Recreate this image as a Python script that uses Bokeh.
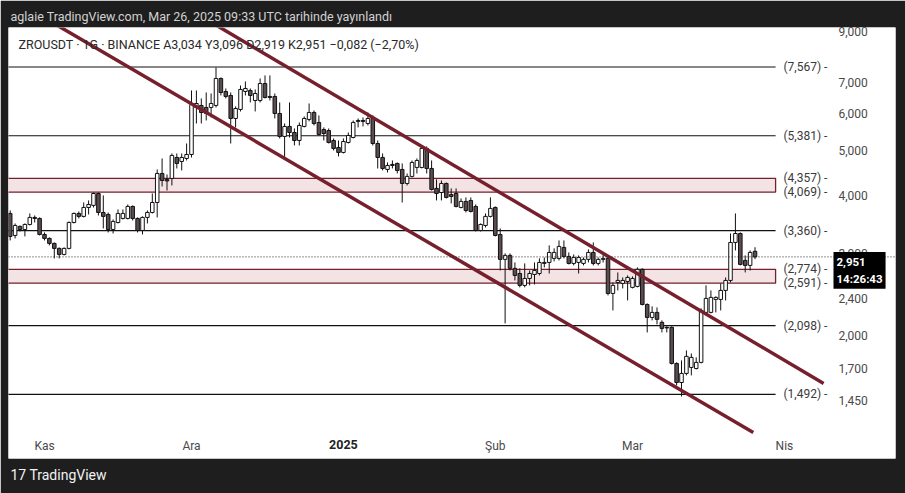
from datetime import datetime, timedelta
import pandas as pd
from bokeh.plotting import figure
from bokeh.models import (ColumnDataSource, Range1d, FixedTicker, NumeralTickFormatter,
                          Label, Span, Title)
from bokeh.embed import file_html
from bokeh.resources import INLINE

# ---------------- data ----------------
dates = pd.date_range("2024-10-25", "2025-03-26", freq="D")

opens = [3660, 3282, 3432, 3381, 3466, 3589, 3571, 3298, 3234, 3155, 3078, 2987, 3078, 3500, 3660, 3607,
         3771, 3809, 4041, 3678, 3642, 3381, 3500, 3571, 3571, 3790, 3571, 3364, 3589, 3678, 3865, 4463,
         4330, 4354, 4832, 4737, 4808, 4904, 6191, 6253, 6191, 6191, 6253, 7148, 6702, 6571, 5862, 6130,
         6702, 6735, 6409, 6409, 6972, 6538, 6538, 6009, 5362, 5635, 5468, 5256, 5635, 5834, 6039, 5747,
         5551, 5523, 5256, 5077, 4953, 5204, 5335, 5776, 5804, 5718, 5862, 5178, 4832, 4553, 4667, 4690,
         4553, 4247, 4398, 4598, 4598, 5052, 4575, 4144, 4061, 4247, 4022, 4041, 3771, 3885, 3904, 3790,
         3364, 3449, 3607, 3771, 3298, 2915, 2973, 2788, 2718, 2562, 2652, 2705, 2718, 2857, 2871, 2929,
         2929, 3093, 2958, 2857, 2871, 2857, 2915, 3017, 2857, 2915, 2929, 2462, 2600, 2587, 2613, 2537,
         2549, 2774, 2331, 2186, 2241, 2133, 2081, 2081, 1740, 1583, 1656, 1706, 1697, 1749, 2241, 2241,
         2390, 2390, 2499, 2626, 3170, 3314, 2900, 2829, 3034]
highs = [3715, 3483, 3449, 3483, 3660, 3624, 3589, 3331, 3250, 3170, 3093, 3093, 3518, 3678, 3697, 3865,
         3904, 4061, 4061, 4002, 3678, 3553, 3734, 3734, 3827, 3809, 3589, 3607, 3715, 4041, 4553, 4808,
         4441, 4928, 4928, 4928, 5178, 6735, 6735, 6474, 6668, 6635, 7549, 7184, 6802, 6668, 6222, 6904,
         7042, 6802, 6769, 7148, 7256, 7256, 6635, 6346, 5718, 6346, 5579, 5747, 5921, 6314, 6099, 5950,
         5607, 5579, 5309, 5256, 5309, 5468, 5804, 5862, 5892, 6039, 5950, 5256, 4928, 4713, 4760, 4713,
         4690, 4463, 4760, 4808, 5103, 5103, 4760, 4333, 4311, 4268, 4144, 4144, 3943, 3963, 3963, 3827,
         3483, 3660, 3963, 3790, 3398, 3002, 3002, 2871, 2788, 2857, 2759, 2871, 2929, 2943, 3124, 3078,
         3202, 3202, 3017, 2987, 2973, 2943, 3063, 3170, 2943, 3002, 2958, 2600, 2732, 2665, 2692, 2678,
         2801, 2788, 2343, 2309, 2297, 2154, 2091, 2091, 1749, 1766, 1856, 1828, 1793, 2286, 2562, 2499,
         2426, 2587, 2665, 3314, 3660, 3331, 2973, 3047, 3096]
lows = [3202, 3234, 3347, 3266, 3449, 3500, 3282, 3202, 3124, 2929, 2929, 2973, 3063, 3483, 3571, 3589,
        3642, 3771, 3624, 3398, 3331, 3314, 3483, 3553, 3553, 3535, 3331, 3298, 3483, 3660, 3589, 4185,
        4102, 4206, 4575, 4530, 4760, 4832, 5718, 5718, 5804, 5892, 6191, 6571, 6474, 5178, 5607, 6069,
        6571, 6346, 6069, 6346, 6474, 6409, 5862, 5309, 4832, 5335, 5128, 5128, 5607, 5776, 5662, 5388,
        5256, 5178, 5002, 4856, 4928, 5178, 5309, 5607, 5635, 5662, 5128, 4575, 4530, 4485, 4575, 4463,
        3865, 4206, 4376, 4463, 4575, 4463, 4102, 3904, 3904, 3943, 3846, 3771, 3753, 3678, 3678, 3347,
        3347, 3415, 3589, 3266, 2759, 2122, 2759, 2626, 2537, 2537, 2562, 2575, 2692, 2801, 2718, 2886,
        2900, 2929, 2843, 2829, 2718, 2829, 2871, 2829, 2829, 2871, 2438, 2263, 2499, 2524, 2378, 2524,
        2537, 2320, 2029, 2154, 2112, 2029, 2029, 1731, 1560, 1477, 1640, 1640, 1689, 1740, 2208, 2230,
        2241, 2263, 2378, 2600, 3047, 2829, 2732, 2759, 2919]
closes = [3266, 3449, 3381, 3466, 3589, 3571, 3298, 3234, 3155, 3078, 2987, 3078, 3500, 3660, 3607, 3771,
          3827, 4041, 3678, 3607, 3381, 3518, 3660, 3660, 3790, 3571, 3364, 3589, 3678, 3865, 4463, 4311,
          4300, 4880, 4690, 4832, 4904, 6283, 6314, 6039, 6009, 6314, 7148, 6668, 6538, 5862, 6160, 6769,
          6802, 6571, 6635, 6972, 6506, 6506, 6009, 5362, 5635, 5468, 5256, 5662, 5862, 6039, 5718, 5415,
          5441, 5204, 5052, 4953, 5230, 5388, 5747, 5804, 5776, 5862, 5178, 4832, 4575, 4644, 4644, 4530,
          4247, 4398, 4713, 4760, 5052, 4575, 4123, 4041, 4247, 3963, 3982, 3790, 3885, 3715, 3697, 3364,
          3466, 3607, 3753, 3282, 2915, 2973, 2788, 2692, 2562, 2652, 2718, 2759, 2871, 2871, 3017, 3017,
          3108, 2958, 2857, 2943, 2943, 2915, 3017, 2857, 2915, 2929, 2462, 2562, 2626, 2626, 2665, 2652,
          2774, 2331, 2186, 2241, 2165, 2070, 2075, 1740, 1583, 1656, 1802, 1793, 1749, 2263, 2402, 2414,
          2414, 2499, 2626, 3170, 3314, 2843, 2829, 3017, 2951]

levels = [7567, 5381, 3360, 2098, 1492]
zone_bottoms = [4069, 2591]
zone_tops = [4357, 2774]
level_texts = ["(7,567) -", "(5,381) -", "(3,360) -", "(2,098) -", "(1,492) -",
               "(4,357) -", "(4,069) -", "(2,774) -", "(2,591) -"]
level_text_values = [7567, 5381, 3360, 2098, 1492, 4357, 4069, 2774, 2591]
last_price = 2951
last_label = "2,951\n14:26:43"

lower_dates = [datetime(2024, 11, 1), datetime(2024, 11, 1) + timedelta(days=144.65)]
lower_prices = [9652, 1236]
upper_dates = [datetime(2024, 12, 4), datetime(2025, 4, 9)]
upper_prices = [9585, 1576]

y_ticks = [1450, 1700, 2000, 2400, 3000, 4000, 5000, 6000, 7000, 9000]
month_ticks = [datetime(2024, 11, 1), datetime(2024, 12, 1), datetime(2025, 1, 1),
               datetime(2025, 2, 1), datetime(2025, 3, 1), datetime(2025, 4, 1)]
month_labels = ["Kas", "Ara", "", "Şub", "Mar", "Nis"]
year_label = "2025"

header_text = "aglaie TradingView.com, Mar 26, 2025 09:33 UTC tarihinde yayınlandı"
title_text = "ZROUSDT · 1G · BINANCE  A3,034  Y3,096  D2,919  K2,951  −0,082 (−2,70%)"
footer_text = "17 TradingView"

# ---------------- figure ----------------
nov1 = datetime(2024, 11, 1)
x_start = nov1 - timedelta(days=7.347)
x_end = nov1 + timedelta(days=173.67)
level_end = nov1 + timedelta(days=149.2)

FONT = "Roboto"
MAROON = "#76202d"
DARK = "#1e1e1e"

p = figure(width=905, height=493, x_axis_type="datetime", y_axis_type="log",
           y_axis_location="right", x_range=Range1d(x_start, x_end),
           y_range=Range1d(1086, 9203), output_backend="svg", toolbar_location=None,
           title=None,
           min_border_left=8, min_border_top=27, min_border_right=10, min_border_bottom=35)
p.background_fill_color = "white"
p.border_fill_color = DARK
p.outline_line_color = None
p.xgrid.visible = False
p.ygrid.visible = False

p.add_layout(Title(text=header_text, text_color="#d2d2d2", text_font=FONT,
                   text_font_size="12.5px", text_font_style="normal", offset=2, standoff=8),
             "above")
p.add_layout(Title(text=footer_text, text_color="#f2f2f2", text_font=FONT,
                   text_font_size="14px", text_font_style="normal", offset=2, standoff=12),
             "below")

# zones
p.quad(left=[x_start - timedelta(days=2)] * 2, right=[level_end] * 2,
       bottom=zone_bottoms, top=zone_tops, fill_color="#f4e3e5",
       line_color=MAROON, line_width=1.3)
# horizontal levels
p.segment(x0=[x_start - timedelta(days=2)] * len(levels), x1=[level_end] * len(levels),
          y0=levels, y1=levels, line_color="#111111", line_width=1.2)

# candles
src = ColumnDataSource(dict(
    x=dates, o=opens, h=highs, l=lows, c=closes,
    top=[max(a, b) for a, b in zip(opens, closes)],
    bot=[min(a, b) for a, b in zip(opens, closes)],
    fill=["#ffffff" if c >= o else "#5b4c50" for o, c in zip(opens, closes)],
))
p.segment(x0="x", x1="x", y0="h", y1="l", source=src, line_color="#111111", line_width=1)
p.vbar(x="x", width=0.72 * 86400000, top="top", bottom="bot", source=src,
       fill_color="fill", line_color="#111111", line_width=1)

# channel
p.line(x=lower_dates, y=lower_prices, line_color=MAROON, line_width=3.5)
p.line(x=upper_dates, y=upper_prices, line_color=MAROON, line_width=3.5)

# axes (price scale and time scale drawn over the white chart area)
xa = p.xaxis[0]
xa.ticker = FixedTicker(ticks=[d.timestamp() * 1000 for d in month_ticks])
xa.major_label_overrides = {d.timestamp() * 1000: s for d, s in zip(month_ticks, month_labels)}
xa.axis_line_color = None
xa.major_tick_line_color = None
xa.minor_tick_line_color = None
xa.major_tick_out = 0
xa.minor_tick_out = 0
xa.major_label_standoff = -20
xa.major_label_text_font = FONT
xa.major_label_text_font_size = "12px"
xa.major_label_text_color = "#4a4a4a"

ya = p.yaxis[0]
ya.ticker = FixedTicker(ticks=y_ticks)
ya.formatter = NumeralTickFormatter(format="0,0")
ya.axis_line_color = None
ya.major_tick_line_color = None
ya.minor_tick_line_color = None
ya.major_tick_out = 0
ya.minor_tick_out = 0
ya.major_label_standoff = -57
ya.major_label_text_font = FONT
ya.major_label_text_font_size = "12px"
ya.major_label_text_color = "#4a4a4a"

# annotations
p.add_layout(Span(location=last_price, dimension="width", line_color="#222222",
                  line_width=1, line_dash="1 2"))

for t, v in zip(level_texts, level_text_values):
    p.add_layout(Label(x=775, x_units="screen", y=v, text=t, text_baseline="middle",
                       text_font=FONT, text_font_size="12px", text_color="#3a3a3a"))

p.add_layout(Label(x=10, y=414, x_units="screen", y_units="screen", text=title_text,
                   text_baseline="middle", text_font=FONT, text_font_size="12.5px",
                   text_color="#2a2a2a"))

p.add_layout(Label(x=datetime(2025, 1, 1), y=14, y_units="screen", text=year_label,
                   text_align="center", text_baseline="middle", text_font=FONT,
                   text_font_size="12.5px", text_font_style="bold", text_color="#222222"))

p.add_layout(Label(x=825, x_units="screen", y=last_price, y_offset=5, text=last_label,
                   text_baseline="top", text_font=FONT, text_font_size="11.5px",
                   text_font_style="bold", text_color="white",
                   background_fill_color="black", padding=3))

open("out.html", "w").write(file_html(p, INLINE))
